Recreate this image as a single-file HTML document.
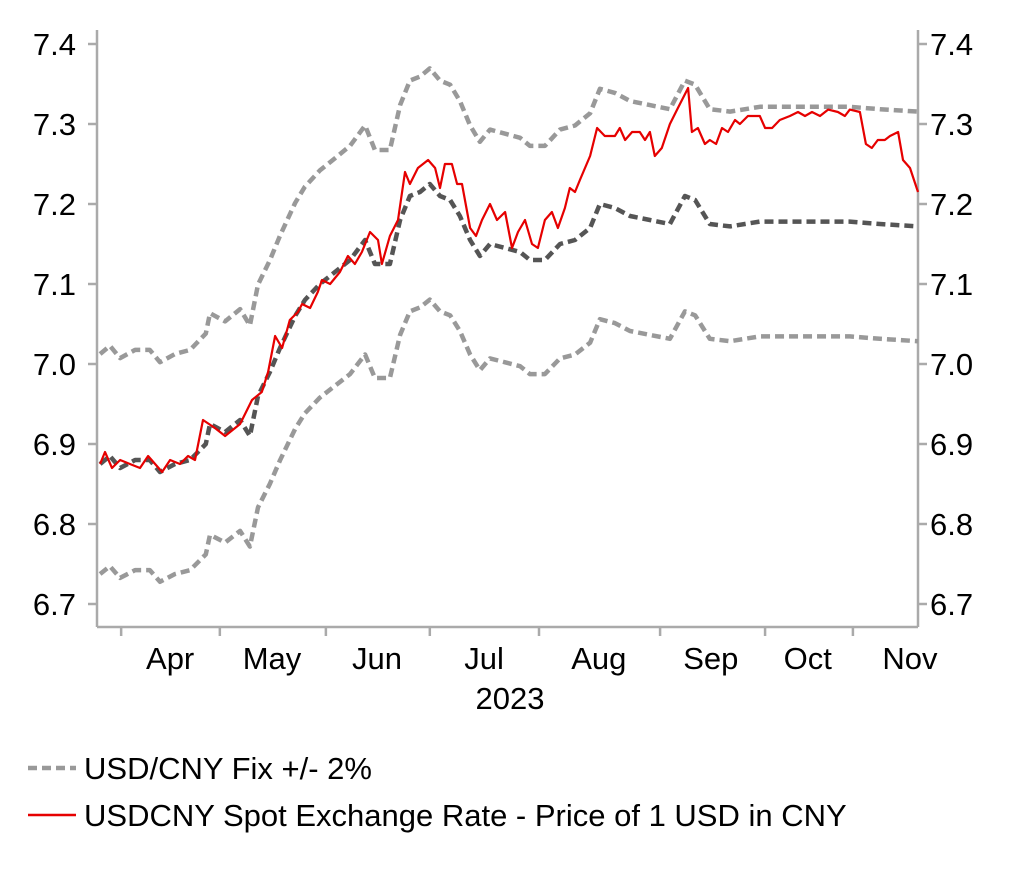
<!DOCTYPE html>
<html><head><meta charset="utf-8"><style>
html,body{margin:0;padding:0;background:#fff;}
svg{display:block;font-family:"Liberation Sans",Arial,sans-serif;}
</style></head><body>
<svg id="chart" width="1022" height="876" viewBox="0 0 1022 876" xmlns="http://www.w3.org/2000/svg">
<g id="axes"></g>
<g id="series"></g>
<g id="legend">
  <line x1="28" y1="768" x2="76" y2="768" stroke="#999" stroke-width="4.5" stroke-dasharray="9,5"/>
  <text x="84" y="779" font-size="31" fill="#000">USD/CNY Fix +/- 2%</text>
  <line x1="28" y1="815" x2="76" y2="815" stroke="#e60000" stroke-width="2.5"/>
  <text x="84" y="826" font-size="31" fill="#000">USDCNY Spot Exchange Rate - Price of 1 USD in CNY</text>
</g>
</svg>
<script>
// Data (x in days since 23 Mar 2023)
const fixDays = [0.9,3.7,6.6,10.9,15.1,18,22.3,26.6,31.1,32.3,36.6,40.9,43.7,46,49.4,52.3,56.6,59.4,63.7,68,72.3,76.6,79.4,83.7,86.6,89.4,92.3,95.1,98,100.9,103.7,106.6,109.4,112.3,116.6,120.9,123.7,128,132.3,136.6,140.9,143.7,148,152.3,158,163.7,168,170.9,175.1,180.9,189.4,200.9,215.1,223.7,234.6];
const fixValues = [6.875,6.885,6.87,6.88,6.88,6.865,6.875,6.88,6.9,6.925,6.915,6.93,6.91,6.96,6.99,7.02,7.06,7.08,7.10,7.115,7.13,7.155,7.125,7.125,7.18,7.21,7.215,7.225,7.21,7.205,7.185,7.155,7.135,7.15,7.145,7.14,7.13,7.13,7.15,7.155,7.17,7.20,7.195,7.185,7.18,7.175,7.21,7.205,7.175,7.172,7.178,7.178,7.178,7.175,7.172];
const bandPct = 0.02;
const spotDays = [0.9,2.3,4.3,6.6,9.4,12.3,14.6,16.6,18.6,20.9,23.7,26,28,30.3,33.7,36.6,40.9,44.3,47.1,48.9,50.9,52.9,55.1,57.4,58.6,60.9,63.1,64.3,66.6,69.4,71.7,73.7,75.7,78,80.3,81.4,83.7,86,88,89.4,91.7,94.6,96.6,98,99.4,101.4,102.9,104.3,106.6,108.3,110,112.3,114.3,116.6,118.6,120.3,122.3,124.3,126,128,130,131.7,133.7,135.1,136.6,138,140.9,142.9,145.1,148,149.4,150.9,152.9,155.1,156.6,158,159.4,161.4,163.7,166,168.9,170,171.7,173.7,175.1,176.9,178.6,180.3,182.3,183.7,186,189.4,190.9,192.9,195.1,198,200.3,202.3,204.3,206.6,208.9,211.7,213.7,215.1,218,219.7,221.4,223.1,225.1,226.6,228.9,230.3,232.3,234.6];
const spotValues = [6.875,6.89,6.87,6.88,6.875,6.87,6.885,6.875,6.865,6.88,6.875,6.885,6.88,6.93,6.92,6.91,6.925,6.955,6.965,6.99,7.035,7.02,7.055,7.065,7.075,7.07,7.09,7.105,7.1,7.115,7.135,7.125,7.14,7.165,7.155,7.125,7.16,7.18,7.24,7.225,7.245,7.255,7.245,7.22,7.25,7.25,7.225,7.225,7.17,7.16,7.18,7.2,7.18,7.19,7.145,7.165,7.18,7.15,7.145,7.18,7.19,7.17,7.195,7.22,7.215,7.23,7.26,7.295,7.285,7.285,7.295,7.28,7.29,7.29,7.28,7.29,7.26,7.27,7.30,7.32,7.345,7.29,7.295,7.275,7.28,7.275,7.295,7.29,7.305,7.3,7.31,7.31,7.295,7.295,7.305,7.31,7.315,7.31,7.315,7.31,7.318,7.315,7.31,7.318,7.315,7.275,7.27,7.28,7.28,7.285,7.29,7.255,7.245,7.215];
const yTicks = [6.7,6.8,6.9,7.0,7.1,7.2,7.3,7.4];
const monthLabels = ["Apr","May","Jun","Jul","Aug","Sep","Oct","Nov"];
const monthTickDays = [6.9,35.1,65.4,95.1,126.3,160.9,190.9,216];
const monthLabelDays = [20.9,50,80,110.6,143.4,175.4,203.1,232.3];

const X0=97, X1=918, Y0=44, Y1=604, DMAX=234.6, VMIN=6.7, VMAX=7.4;
function xs(d){return X0+(d/DMAX)*(X1-X0);}
function ys(v){return Y1-(v-VMIN)/(VMAX-VMIN)*(Y1-Y0);}
const NS="http://www.w3.org/2000/svg";
function mk(tag,attrs,parent){const e=document.createElementNS(NS,tag);for(const k in attrs)e.setAttribute(k,attrs[k]);parent.appendChild(e);return e;}
const axes=document.getElementById('axes'), series=document.getElementById('series');

let el=mk('line',{x1:X0,y1:30,x2:X0,y2:627,stroke:'#aaa','stroke-width':2.5},axes);


el=mk('line',{x1:X1,y1:30,x2:X1,y2:627,stroke:'#aaa','stroke-width':2.5},axes);


el=mk('line',{x1:X0,y1:627,x2:X1,y2:627,stroke:'#aaa','stroke-width':2.5},axes);



yTicks.forEach(v=>{
  const y=ys(v);
  let t=mk('line',{x1:X0-9,y1:y,x2:X0,y2:y,stroke:'#aaa','stroke-width':2.5},axes);
  
  
  t=mk('line',{x1:X1,y1:y,x2:X1+9,y2:y,stroke:'#aaa','stroke-width':2.5},axes);
  
  
  let l=mk('text',{x:X0-21,y:y+11,'text-anchor':'end','font-size':31,fill:'#000'},axes);
  l.textContent=v.toFixed(1);
  
  
  l=mk('text',{x:X1+12,y:y+11,'text-anchor':'start','font-size':31,fill:'#000'},axes);
  l.textContent=v.toFixed(1);
  
  
});
monthTickDays.forEach(d=>{
  const x=xs(d);
  let t=mk('line',{x1:x,y1:627,x2:x,y2:636,stroke:'#aaa','stroke-width':2.5},axes);
  
  
});
monthLabelDays.forEach((d,i)=>{
  let l=mk('text',{x:xs(d),y:669,'text-anchor':'middle','font-size':31,fill:'#000'},axes);
  l.textContent=monthLabels[i];
  
  
});
el=mk('text',{x:510,y:709,'text-anchor':'middle','font-size':31,fill:'#000'},axes);
el.textContent='2023';



function path(days,vals){return days.map((d,i)=>(i?'L':'M')+xs(d).toFixed(1)+','+ys(vals[i]).toFixed(1)).join(' ');}
const upper=fixValues.map(v=>v*(1+bandPct)), lower=fixValues.map(v=>v*(1-bandPct));
el=mk('path',{d:path(fixDays,upper),fill:'none',stroke:'#999','stroke-width':4.5,'stroke-dasharray':'9,5','stroke-linejoin':'round'},series);


el=mk('path',{d:path(fixDays,lower),fill:'none',stroke:'#999','stroke-width':4.5,'stroke-dasharray':'9,5','stroke-linejoin':'round'},series);


el=mk('path',{d:path(fixDays,fixValues),fill:'none',stroke:'#555','stroke-width':4.5,'stroke-dasharray':'9,5','stroke-linejoin':'round'},series);


el=mk('path',{d:path(spotDays,spotValues),fill:'none',stroke:'#e60000','stroke-width':2.2,'stroke-linejoin':'round'},series);


</script>
</body></html>
